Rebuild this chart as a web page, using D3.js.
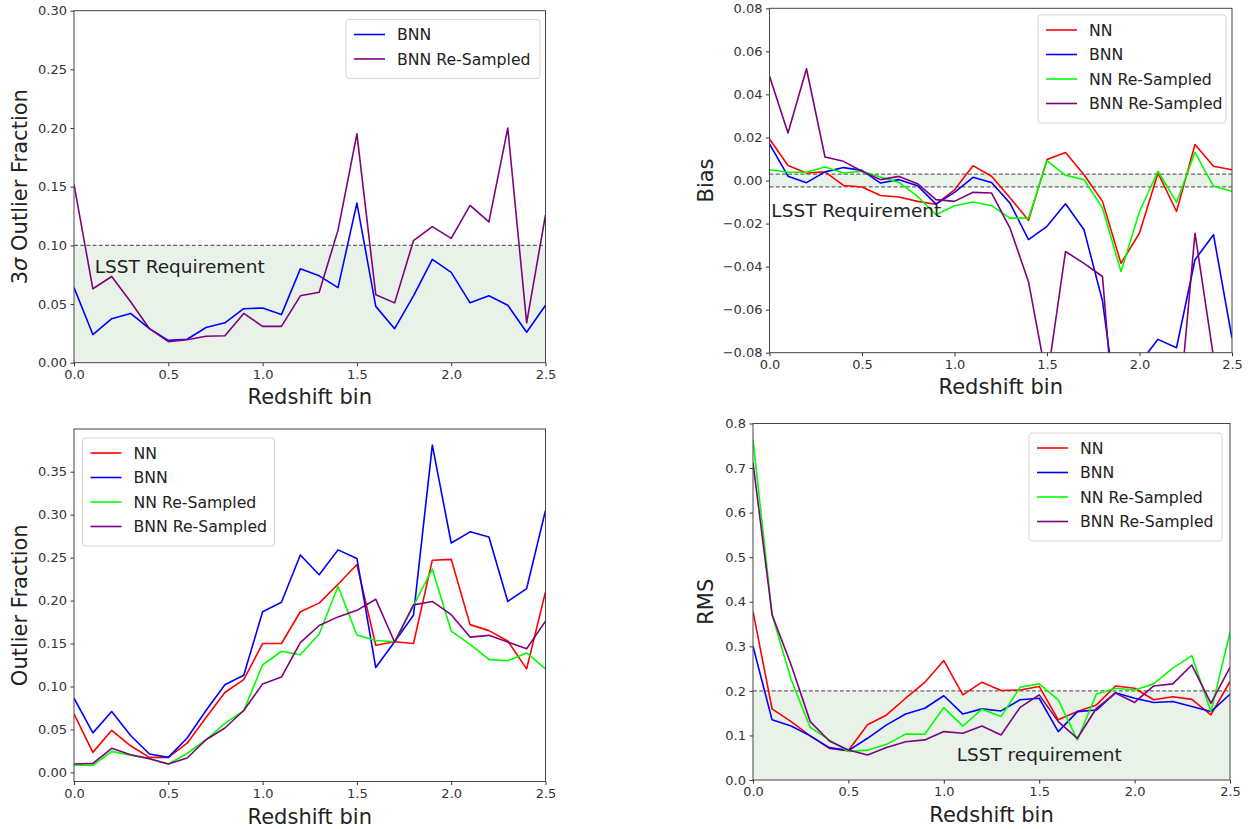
<!DOCTYPE html>
<html>
<head>
<meta charset="utf-8">
<script src="https://cdn.jsdelivr.net/npm/d3@7"></script>
<style>
  html, body { margin: 0; padding: 0; background: #fff; }
  svg { display: block; font-family: "DejaVu Sans", sans-serif; }
</style>
</head>
<body>
<svg id="fig" width="1251" height="829"></svg>
<script>
// Redshift bins shared by every panel
const zBins = [0.0,0.1,0.2,0.3,0.4,0.5,0.6,0.7,0.8,0.9,1.0,1.1,1.2,1.3,1.4,1.5,1.6,1.7,1.8,1.9,2.0,2.1,2.2,2.3,2.4,2.5];
const xTicks = [0.0, 0.5, 1.0, 1.5, 2.0, 2.5];

// 3-sigma outlier fraction
const sig3BNN   = [0.064,0.024,0.0375,0.042,0.029,0.019,0.020,0.030,0.034,0.046,0.0466,0.041,0.080,0.074,0.064,0.136,0.048,0.029,0.057,0.088,0.077,0.051,0.057,0.049,0.026,0.049];
const sig3BNNrs = [0.152,0.063,0.0735,0.052,0.029,0.018,0.0195,0.0225,0.023,0.042,0.031,0.031,0.057,0.060,0.113,0.195,0.058,0.051,0.104,0.116,0.106,0.134,0.120,0.200,0.034,0.126];
const sig3Ticks = [0.00,0.05,0.10,0.15,0.20,0.25,0.30];

// Bias
const biasNN    = [0.0193,0.007,0.0035,0.004,-0.0023,-0.003,-0.007,-0.0077,-0.0097,-0.011,-0.0043,0.0069,0.002,-0.008,-0.0185,0.0097,0.013,0.0027,-0.0097,-0.0385,-0.0244,0.0035,-0.0144,0.0167,0.0066,0.005];
const biasBNN   = [0.017,0.002,-0.001,0.004,0.006,0.0047,-0.0012,0.0004,-0.0024,-0.011,-0.0055,0.0015,-0.0009,-0.0105,-0.0275,-0.0213,-0.0108,-0.0229,-0.056,-0.12,-0.085,-0.0738,-0.0777,-0.0368,-0.0252,-0.0733];
const biasNNrs  = [0.005,0.0038,0.0038,0.0063,0.0035,0.0043,0.0016,-0.0009,-0.0074,-0.0159,-0.0117,-0.010,-0.0117,-0.0175,-0.0175,0.0092,0.0024,0.0004,-0.0128,-0.0423,-0.0144,0.0043,-0.0102,0.0131,-0.0027,-0.005];
const biasBNNrs = [0.0485,0.0221,0.0519,0.0109,0.0089,0.0043,0.0004,0.0019,-0.0015,-0.0089,-0.0097,-0.0055,-0.0058,-0.0221,-0.047,-0.093,-0.033,-0.0385,-0.0446,-0.15,-0.13,-0.14,-0.12,-0.0245,-0.082,-0.15];
const biasTicks = [-0.08,-0.06,-0.04,-0.02,0.00,0.02,0.04,0.06,0.08];

// Outlier fraction
const outNN     = [0.068,0.0233,0.049,0.031,0.0175,0.0175,0.034,0.064,0.093,0.108,0.150,0.150,0.187,0.197,0.219,0.242,0.148,0.152,0.150,0.247,0.248,0.172,0.165,0.153,0.1205,0.210];
const outBNN    = [0.0863,0.046,0.0708,0.043,0.0214,0.0175,0.040,0.072,0.102,0.113,0.187,0.198,0.253,0.230,0.259,0.249,0.122,0.152,0.183,0.381,0.267,0.280,0.274,0.199,0.214,0.305];
const outNNrs   = [0.0086,0.0082,0.0245,0.020,0.016,0.0097,0.022,0.038,0.057,0.072,0.125,0.141,0.137,0.161,0.2166,0.160,0.1536,0.152,0.194,0.2365,0.1645,0.149,0.1315,0.130,0.139,0.1205];
const outBNNrs  = [0.0097,0.0105,0.028,0.0206,0.016,0.0097,0.0167,0.038,0.0517,0.072,0.103,0.111,0.151,0.171,0.181,0.1886,0.2015,0.1517,0.195,0.199,0.1836,0.1575,0.1595,0.1517,0.144,0.176];
const outTicks  = [0.00,0.05,0.10,0.15,0.20,0.25,0.30,0.35];

// RMS
const rmsNN     = [0.378,0.1596,0.131,0.099,0.071,0.066,0.124,0.146,0.1835,0.219,0.268,0.191,0.2195,0.201,0.202,0.210,0.135,0.1535,0.1685,0.211,0.206,0.180,0.187,0.181,0.146,0.221];
const rmsBNN    = [0.300,0.135,0.121,0.099,0.0727,0.066,0.0936,0.1236,0.148,0.161,0.189,0.148,0.1596,0.155,0.180,0.1835,0.1086,0.1535,0.157,0.196,0.1835,0.174,0.176,0.165,0.1535,0.1925];
const rmsNNrs   = [0.764,0.371,0.225,0.118,0.090,0.064,0.067,0.080,0.103,0.1026,0.1625,0.121,0.159,0.1423,0.208,0.2157,0.180,0.090,0.193,0.206,0.202,0.2157,0.251,0.279,0.1535,0.331];
const rmsBNNrs  = [0.712,0.371,0.258,0.131,0.0876,0.0674,0.056,0.0727,0.086,0.090,0.1086,0.105,0.121,0.101,0.163,0.191,0.131,0.0936,0.161,0.195,0.174,0.211,0.2157,0.258,0.172,0.253];
const rmsTicks  = [0.0,0.1,0.2,0.3,0.4,0.5,0.6,0.7,0.8];

const colorNN = "#ff0000", colorBNN = "#0000ff", colorNNrs = "#00ff00", colorBNNrs = "#800080";

const svg = d3.select("#fig");
const defs = svg.append("defs");
let clipId = 0;

function drawPanel(cfg) {
  const x = d3.scaleLinear().domain([0, 2.5]).range([cfg.left, cfg.right]);
  const y = d3.scaleLinear().domain(cfg.yDomain).range([cfg.bottom, cfg.top]);
  const g = svg.append("g");
  const id = "clip" + (clipId++);
  defs.append("clipPath").attr("id", id).append("rect")
    .attr("x", cfg.left).attr("y", cfg.top)
    .attr("width", cfg.right - cfg.left).attr("height", cfg.bottom - cfg.top);

  const plot = g.append("g").attr("clip-path", `url(#${id})`);

  // requirement band and its dashed limits
  const band = cfg.band;
  plot.append("rect")
    .attr("x", x(0)).attr("width", x(2.5) - x(0))
    .attr("y", y(band[1])).attr("height", y(band[0]) - y(band[1]))
    .attr("fill", "#e9f2e9");
  band.forEach(v => {
    if (v === 0) return;
    plot.append("line")
      .attr("x1", x(0)).attr("x2", x(2.5))
      .attr("y1", y(v)).attr("y2", y(v))
      .attr("stroke", "#666").attr("stroke-width", 1.3)
      .attr("stroke-dasharray", "4,2.2");
  });

  // series
  const line = d3.line().x((d, i) => x(zBins[i])).y(d => y(d));
  cfg.series.forEach(s => {
    plot.append("path").datum(s.values)
      .attr("d", line).attr("fill", "none")
      .attr("stroke", s.color).attr("stroke-width", 1.6)
      .attr("stroke-linejoin", "round");
  });

  // requirement label
  g.append("text")
    .attr("x", x(cfg.reqLabel.x)).attr("y", y(cfg.reqLabel.y))
    .attr("text-anchor", cfg.reqLabel.anchor || "start")
    .attr("dominant-baseline", "middle")
    .attr("font-size", 18.5).attr("fill", "#222")
    .text(cfg.reqLabel.text);

  // axes
  const xAxis = d3.axisBottom(x).tickValues(xTicks).tickFormat(d3.format(".1f"))
    .tickSizeInner(3.5).tickSizeOuter(0).tickPadding(3.5);
  const yAxis = d3.axisLeft(y).tickValues(cfg.yTicks).tickFormat(d3.format(cfg.yFormat))
    .tickSizeInner(3.5).tickSizeOuter(0).tickPadding(3.5);
  const gx = g.append("g").attr("transform", `translate(0,${cfg.bottom})`).call(xAxis);
  const gy = g.append("g").attr("transform", `translate(${cfg.left},0)`).call(yAxis);
  [gx, gy].forEach(a => {
    a.select(".domain").remove();
    a.selectAll(".tick line").attr("stroke", "#333").attr("stroke-width", 1);
    a.selectAll(".tick text").attr("font-size", 13).attr("fill", "#333")
      .attr("font-family", "DejaVu Sans, sans-serif");
  });

  // frame
  g.append("rect")
    .attr("x", cfg.left).attr("y", cfg.top)
    .attr("width", cfg.right - cfg.left).attr("height", cfg.bottom - cfg.top)
    .attr("fill", "none").attr("stroke", "#444").attr("stroke-width", 1);

  // axis titles
  g.append("text")
    .attr("x", (cfg.left + cfg.right) / 2).attr("y", cfg.xLabelY)
    .attr("text-anchor", "middle").attr("font-size", 21).attr("fill", "#222")
    .text("Redshift bin");
  const yl = g.append("text")
    .attr("transform", `translate(${cfg.yLabelX},${(cfg.top + cfg.bottom) / 2}) rotate(-90)`)
    .attr("text-anchor", "middle").attr("font-size", 21).attr("fill", "#222");
  if (cfg.sigma) {
    yl.append("tspan").text("3");
    yl.append("tspan").attr("font-style", "italic").text("σ");
    yl.append("tspan").text(" Outlier Fraction");
  } else {
    yl.text(cfg.yLabel);
  }

  // legend
  const L = cfg.legend;
  const rowH = 24.5;
  const lg = g.append("g");
  lg.append("rect")
    .attr("x", L.x).attr("y", L.y).attr("width", L.w)
    .attr("height", cfg.series.length * rowH + 10)
    .attr("rx", 3).attr("fill", "#fff").attr("fill-opacity", 0.85)
    .attr("stroke", "#d6d6d6").attr("stroke-width", 1);
  cfg.series.forEach((s, i) => {
    const cy = L.y + 15 + i * rowH;
    lg.append("line")
      .attr("x1", L.x + 8).attr("x2", L.x + 39)
      .attr("y1", cy).attr("y2", cy)
      .attr("stroke", s.color).attr("stroke-width", 1.6);
    lg.append("text")
      .attr("x", L.x + 51).attr("y", cy)
      .attr("dominant-baseline", "central")
      .attr("font-size", 15.7).attr("fill", "#222")
      .text(s.name);
  });
}

// 3-sigma outlier fraction panel
drawPanel({
  left: 74, right: 545.5, top: 10.7, bottom: 362.7,
  yDomain: [0, 0.30], yTicks: sig3Ticks, yFormat: ".2f",
  band: [0, 0.10],
  series: [
    { name: "BNN", color: colorBNN, values: sig3BNN },
    { name: "BNN Re-Sampled", color: colorBNNrs, values: sig3BNNrs }
  ],
  reqLabel: { text: "LSST Requirement", x: 0.11, y: 0.081 },
  xLabelY: 404, yLabelX: 27, sigma: true,
  legend: { x: 346, y: 19.5, w: 194 }
});

// Bias panel
drawPanel({
  left: 769.5, right: 1232, top: 8.3, bottom: 352.7,
  yDomain: [-0.08, 0.08], yTicks: biasTicks, yFormat: ".2f",
  band: [-0.003, 0.003],
  series: [
    { name: "NN", color: colorNN, values: biasNN },
    { name: "BNN", color: colorBNN, values: biasBNN },
    { name: "NN Re-Sampled", color: colorNNrs, values: biasNNrs },
    { name: "BNN Re-Sampled", color: colorBNNrs, values: biasBNNrs }
  ],
  reqLabel: { text: "LSST Requirement", x: 0.01, y: -0.0145 },
  xLabelY: 394, yLabelX: 713, yLabel: "Bias",
  legend: { x: 1038, y: 15, w: 188 }
});

// Outlier fraction panel
drawPanel({
  left: 74, right: 545.5, top: 429, bottom: 781.5,
  yDomain: [-0.0106, 0.3997], yTicks: outTicks, yFormat: ".2f",
  band: [0, 0],
  series: [
    { name: "NN", color: colorNN, values: outNN },
    { name: "BNN", color: colorBNN, values: outBNN },
    { name: "NN Re-Sampled", color: colorNNrs, values: outNNrs },
    { name: "BNN Re-Sampled", color: colorBNNrs, values: outBNNrs }
  ],
  reqLabel: { text: "", x: 0, y: 0 },
  xLabelY: 824, yLabelX: 27, yLabel: "Outlier Fraction",
  legend: { x: 82.5, y: 438, w: 192 }
});

// RMS panel
drawPanel({
  left: 753, right: 1230, top: 423.5, bottom: 780,
  yDomain: [0, 0.8], yTicks: rmsTicks, yFormat: ".1f",
  band: [0, 0.2],
  series: [
    { name: "NN", color: colorNN, values: rmsNN },
    { name: "BNN", color: colorBNN, values: rmsBNN },
    { name: "NN Re-Sampled", color: colorNNrs, values: rmsNNrs },
    { name: "BNN Re-Sampled", color: colorBNNrs, values: rmsBNNrs }
  ],
  reqLabel: { text: "LSST requirement", x: 1.5, y: 0.054, anchor: "middle" },
  xLabelY: 822, yLabelX: 713, yLabel: "RMS",
  legend: { x: 1029, y: 433, w: 193 }
});
</script>
</body>
</html>
